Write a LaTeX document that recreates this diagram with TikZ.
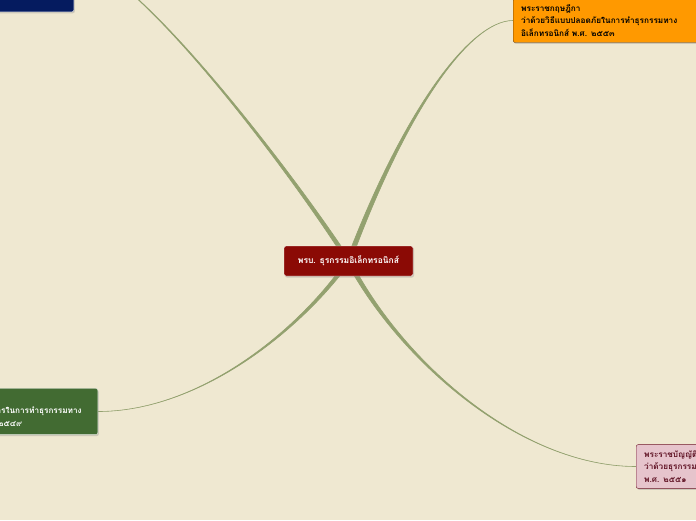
\documentclass[tikz,border=0pt]{standalone}
\usepackage{fontspec}
\setmainfont[Script=Thai]{Loma}
\usetikzlibrary{calc,shadows,backgrounds}
\definecolor{paper}{RGB}{239,232,209}
\definecolor{branchgreen}{RGB}{147,161,111}
\definecolor{corered}{RGB}{139,10,5}
\definecolor{orangefill}{RGB}{255,153,0}
\definecolor{orangeline}{RGB}{100,55,0}
\definecolor{leafgreen}{RGB}{66,107,50}
\definecolor{pinkfill}{RGB}{230,196,204}
\definecolor{pinkline}{RGB}{110,20,40}
\definecolor{navyfill}{RGB}{5,27,95}
\tikzset{
  topic box/.style={
    draw=#1,
    rounded corners=2pt,
    align=left,
    inner xsep=8pt,
    inner ysep=6pt,
    font=\bfseries\fontsize{8.2}{12.5}\selectfont,
    drop shadow={shadow xshift=1pt,shadow yshift=-1.5pt,opacity=0.3},
  },
  core box/.style={
    fill=corered,
    draw=white!90!paper,
    rounded corners=2pt,
    text=white,
    minimum width=129pt,
    minimum height=30pt,
    font=\bfseries\fontsize{8.5}{10}\selectfont,
    drop shadow={shadow xshift=1pt,shadow yshift=-1.5pt,opacity=0.3},
  },
  branch/.style={
    fill=branchgreen,
    draw=branchgreen,
    line width=0.6pt,
  }
}
% tapered connector from the core to #1, controls #2 and #3
\newcommand{\branchto}[3]{%
  \filldraw[branch] ($(core)+(-2.5,0)$) .. controls ($#2+(-1.5,0)$) and #3 .. (#1)
    .. controls #3 and ($#2+(1.5,0)$) .. ($(core)+(2.5,0)$) -- cycle;}

\begin{document}
\begin{tikzpicture}[x=1pt,y=-1pt]
        \useasboundingbox (0,0) rectangle (696,520);

        \node [core box] (core) at (348.5,261) {พรบ. ธุรกรรมอิเล็กทรอนิกส์};

        \node [topic box=orangeline, fill=orangefill, text width=190pt, anchor=west] (decree53) at (513,20.5)
          {พระราชกฤษฎีกา\\ว่าด้วยวิธีแบบปลอดภัยในการทำธุรกรรมทาง\\อิเล็กทรอนิกส์ พ.ศ. ๒๕๕๓};
        \node [topic box=white!85!leafgreen, fill=leafgreen, text=white, text width=186pt, anchor=east] (decree49) at (98,411.5)
          {พระราชกฤษฎีกา\\กำหนดหลักเกณฑ์และวิธีการในการทำธุรกรรมทาง\\อิเล็กทรอนิกส์ภาครัฐ พ.ศ. ๒๕๔๙};
        \node [topic box=pinkline, fill=pinkfill, text=pinkline!85!black, text width=170pt, anchor=west] (act51) at (636,466.5)
          {พระราชบัญญัติ\\ว่าด้วยธุรกรรมทางอิเล็กทรอนิกส์ (ฉบับที่ ๒)\\พ.ศ. ๒๕๕๑};
        \node [topic box=white!80!navyfill, fill=navyfill, minimum width=160pt, minimum height=104pt, anchor=south east] (navy) at (74,12) {};

        \begin{scope}[on background layer]
          \fill [paper] (0,0) rectangle (696,520);
          \branchto{navy.east}{(290,170)}{(130,-40)}
          \branchto{decree53.west}{(405,110)}{(470,20.5)}
          \branchto{decree49.east}{(300,330)}{(200,411.5)}
          \branchto{act51.west}{(400,360)}{(520,466.5)}
        \end{scope}
      \end{tikzpicture}
\end{document}
